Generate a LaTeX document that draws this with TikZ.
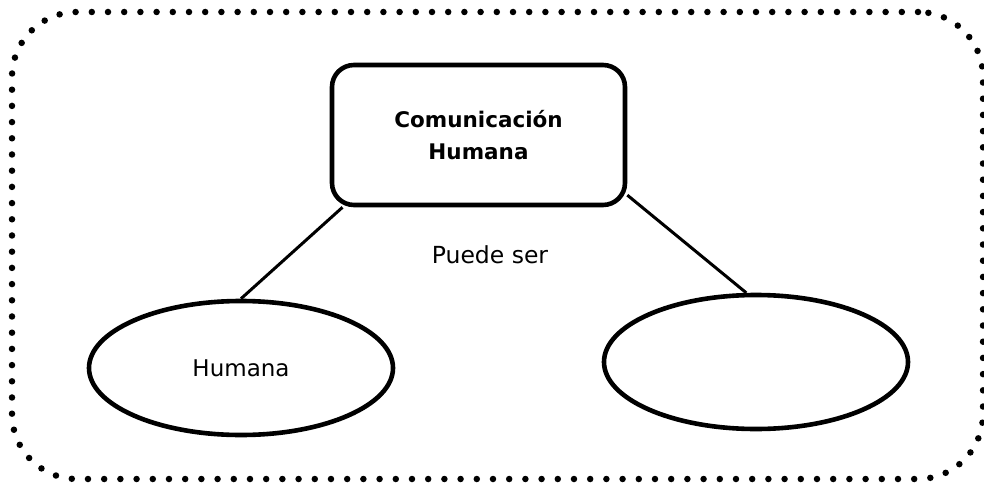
\documentclass[tikz,border=0pt]{standalone}
\usepackage{fontspec}
\setmainfont{DejaVu Sans}
\usetikzlibrary{shapes.geometric}
\begin{document}
\begin{tikzpicture}[x=1pt,y=-1pt,
  frame/.style={draw, rounded corners=65pt, line width=6.5pt, dash pattern=on 0pt off 16.2pt, line cap=round, minimum width=971pt, minimum height=467pt, inner sep=0pt},
  mainbox/.style={draw, rounded corners=22pt, line width=4.6pt, minimum width=293pt, minimum height=140pt, align=center, font=\fontsize{21.5}{32}\selectfont\bfseries},
  oval/.style={draw, ellipse, line width=4.6pt, minimum width=304pt, minimum height=134pt, inner sep=0pt, font=\fontsize{23}{26}\selectfont},
  conn/.style={line width=3pt},
  lbl/.style={font=\fontsize{23.5}{26}\selectfont}]
\useasboundingbox (0,0) rectangle (984,484);
\node[frame] (border) at (497.5,245.5) {};
\node[mainbox] (top) at (478.5,135) {Comunicación\\Humana};
\node[oval] (left) at (241,368) {Humana};
\node[oval] (right) at (756,362) {};
\node[lbl] (lab) at (490,255) {Puede ser};
\draw[conn] (top.208.9) -- (left.north);
\draw[conn] (top.-22.9) -- (right.98);
\end{tikzpicture}
\end{document}
